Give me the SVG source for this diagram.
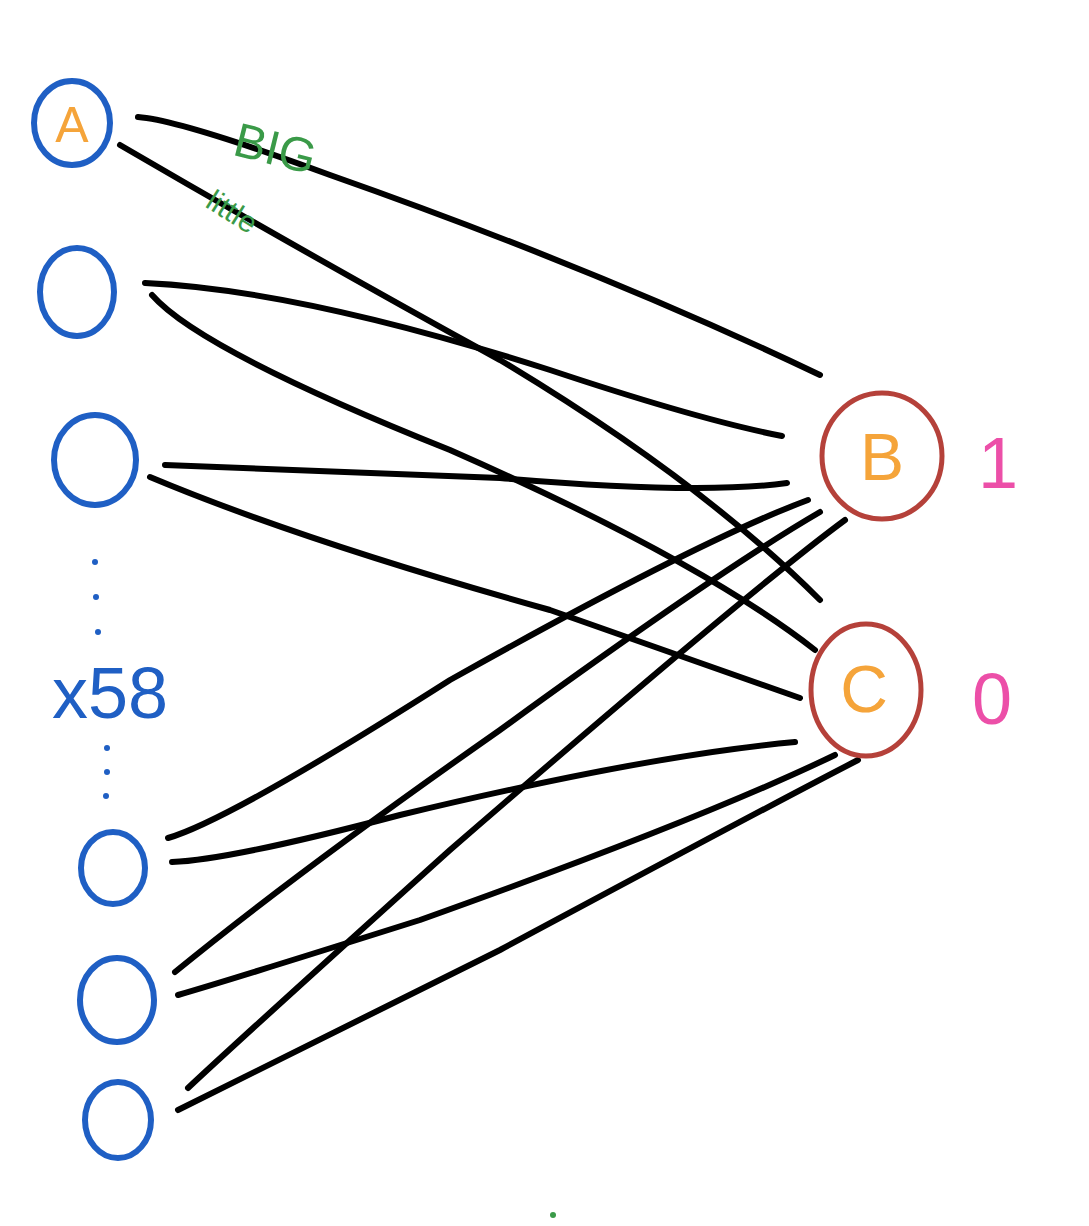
<svg xmlns="http://www.w3.org/2000/svg" width="1089" height="1226" viewBox="0 0 1089 1226">
<style>
.blue{fill:none;stroke:#1f5fc4;stroke-width:6}
.red{fill:none;stroke:#b5413a;stroke-width:5}
.l{fill:none;stroke:#000;stroke-width:6;stroke-linecap:round}
.lbl{font-family:"Liberation Sans",sans-serif}
</style>
<rect width="1089" height="1226" fill="#fff"/>
<g id="connectors">
<path class="l" d="M138,117 Q180,120 330,175 Q600,270 820,375"/>
<path class="l" d="M120,145 Q300,250 500,360 Q700,480 820,600"/>
<path class="l" d="M145,283 Q300,290 550,370 Q700,420 782,436"/>
<path class="l" d="M152,295 Q200,350 450,450 Q700,560 815,650"/>
<path class="l" d="M165,465 Q300,470 500,478 Q700,495 787,483"/>
<path class="l" d="M150,477 Q300,540 550,610 Q720,670 800,698"/>
<path class="l" d="M168,838 Q230,820 450,680 Q700,540 808,500"/>
<path class="l" d="M172,862 Q230,860 400,815 Q650,755 795,742"/>
<path class="l" d="M175,972 Q300,870 500,730 Q720,570 820,512"/>
<path class="l" d="M178,995 Q230,980 420,920 Q700,820 835,755"/>
<path class="l" d="M188,1088 Q250,1030 450,850 Q750,590 845,520"/>
<path class="l" d="M178,1110 Q300,1050 500,950 Q780,800 858,760"/>
</g>
<g id="nodeA"><ellipse class="blue" cx="72" cy="123" rx="38" ry="42"/><text class="lbl" x="72" y="142" font-size="50" fill="#f5a43a" text-anchor="middle">A</text></g>
<g id="n2"><ellipse class="blue" cx="77" cy="292" rx="37" ry="44"/></g>
<g id="n3"><ellipse class="blue" cx="95" cy="460" rx="41" ry="45"/></g>
<g id="n4"><ellipse class="blue" cx="113" cy="868" rx="32" ry="36"/></g>
<g id="n5"><ellipse class="blue" cx="117" cy="1000" rx="37" ry="42"/></g>
<g id="n6"><ellipse class="blue" cx="118" cy="1120" rx="33" ry="38"/></g>
<g id="nodeB"><ellipse class="red" cx="882" cy="456" rx="60" ry="63"/><text class="lbl" x="882" y="480" font-size="66" fill="#f5a43a" text-anchor="middle">B</text></g>
<g id="nodeC"><ellipse class="red" cx="866" cy="690" rx="55" ry="66"/><text class="lbl" x="864" y="712" font-size="66" fill="#f5a43a" text-anchor="middle">C</text></g>
<g id="labels">
<text class="lbl" x="275" y="165" font-size="48" fill="#3a9a48" text-anchor="middle" transform="rotate(14 275 150)">BIG</text>
<text class="lbl" x="232" y="222" font-size="30" fill="#3a9a48" text-anchor="middle" transform="rotate(32 232 212)">little</text>
<g fill="#1f5fc4"><circle cx="95" cy="562" r="3"/><circle cx="96" cy="597" r="3"/><circle cx="98" cy="632" r="3"/><circle cx="107" cy="748" r="3"/><circle cx="107" cy="772" r="3"/><circle cx="106" cy="796" r="3"/></g>
<text class="lbl" x="110" y="718" font-size="72" fill="#1f5fc4" text-anchor="middle">x58</text>
<text class="lbl" x="998" y="488" font-size="72" fill="#ec4fa8" text-anchor="middle">1</text>
<text class="lbl" x="992" y="724" font-size="72" fill="#ec4fa8" text-anchor="middle">0</text>
<circle cx="553" cy="1215" r="3" fill="#3a9a48"/>
</g>
</svg>
